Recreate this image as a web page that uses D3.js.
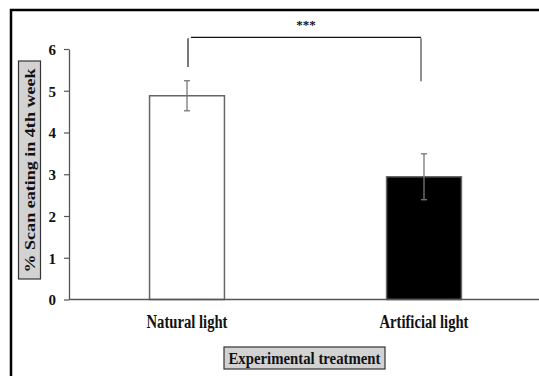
<!DOCTYPE html>
<html>
<head>
<meta charset="utf-8">
<script src="https://cdn.jsdelivr.net/npm/d3@7"></script>
<style>
  body { margin: 0; background: #fff; }
  text { font-family: "Liberation Serif", "Times New Roman", serif; font-weight: bold; fill: #111; }
</style>
</head>
<body>
<svg id="chart" width="539" height="376"></svg>
<script>
// chart values
const categories = ["Natural light", "Artificial light"];
const means = [4.88, 2.94];
const errors = [0.36, 0.55];
const barFills = ["#ffffff", "#000000"];
const yTicks = [0, 1, 2, 3, 4, 5, 6];
const sigLabel = "***";
const bracketTop = 6.28;        // horizontal part of the bracket
const bracketEnds = [5.57, 5.23]; // lower ends of the two legs
const xTitle = "Experimental treatment";
const yTitle = "% Scan eating in 4th week";

let svg = d3.select("#chart");

// outer frame (runs off the right and bottom edges like the scan)
svg.append("rect")
    .attr("x", 11).attr("y", 10)
    .attr("width", 560).attr("height", 400)
    .attr("fill", "#fff").attr("stroke", "#000").attr("stroke-width", 2.5);

let y = d3.scaleLinear().domain([0, 6]).range([299.5, 49]);
let x = d3.scaleBand().domain(categories)
    .range([68.5, 542.5]).paddingInner(0.684).paddingOuter(0.342);

// bars
svg.selectAll("rect.bar").data(categories).enter().append("rect")
    .attr("class", "bar")
    .attr("x", d => x(d))
    .attr("y", (d, i) => y(means[i]))
    .attr("width", x.bandwidth())
    .attr("height", (d, i) => y(0) - y(means[i]))
    .attr("fill", (d, i) => barFills[i])
    .attr("stroke", "#666").attr("stroke-width", 1.5);

// error bars
let errG = svg.selectAll("g.err").data(categories).enter().append("g")
    .attr("class", "err")
    .attr("stroke", "#777").attr("stroke-width", 1.3);
let cx = d => x(d) + x.bandwidth() / 2;
errG.append("line")
    .attr("x1", cx).attr("x2", cx)
    .attr("y1", (d, i) => y(means[i] + errors[i]))
    .attr("y2", (d, i) => y(means[i] - errors[i]));
errG.append("line")
    .attr("x1", d => cx(d) - 3).attr("x2", d => cx(d) + 3)
    .attr("y1", (d, i) => y(means[i] + errors[i]))
    .attr("y2", (d, i) => y(means[i] + errors[i]));
errG.append("line")
    .attr("x1", d => cx(d) - 3).attr("x2", d => cx(d) + 3)
    .attr("y1", (d, i) => y(means[i] - errors[i]))
    .attr("y2", (d, i) => y(means[i] - errors[i]));

// y axis
let yAxis = svg.append("g")
    .attr("transform", "translate(69,0)")
    .call(d3.axisLeft(y).tickValues(yTicks).tickFormat(d3.format("d"))
        .tickSize(5).tickSizeOuter(0).tickPadding(8));
yAxis.select(".domain").attr("stroke", "#555").attr("stroke-width", 1.3);
yAxis.selectAll(".tick line").attr("stroke", "#555").attr("stroke-width", 1.2);
yAxis.selectAll(".tick text")
    .style("font-family", "'Liberation Serif', serif")
    .style("font-weight", "bold")
    .style("font-size", "15px")
    .attr("dy", "0.36em")
    .attr("fill", "#111");

// x axis line
svg.append("line")
    .attr("x1", 69).attr("x2", 539)
    .attr("y1", y(0)).attr("y2", y(0))
    .attr("stroke", "#555").attr("stroke-width", 1.5);

// category labels
svg.selectAll("text.cat").data(categories).enter().append("text")
    .attr("class", "cat")
    .attr("x", cx).attr("y", 327.5)
    .attr("text-anchor", "middle")
    .attr("font-size", 18)
    .attr("textLength", (d, i) => i === 0 ? 81 : 89)
    .attr("lengthAdjust", "spacingAndGlyphs")
    .text(d => d);

// significance bracket
let xl = cx(categories[0]), xr = cx(categories[1]) - 3;
let br = svg.append("g").attr("fill", "none");
br.append("line").attr("x1", xl + 1).attr("x2", xl + 1)
    .attr("y1", y(bracketTop) + 1).attr("y2", y(bracketEnds[0]))
    .attr("stroke", "#777").attr("stroke-width", 2);
br.append("line").attr("x1", xl + 4).attr("x2", xr)
    .attr("y1", y(bracketTop)).attr("y2", y(bracketTop))
    .attr("stroke", "#111").attr("stroke-width", 1.3);
br.append("line").attr("x1", xr).attr("x2", xr)
    .attr("y1", y(bracketTop) + 1).attr("y2", y(bracketEnds[1]))
    .attr("stroke", "#555").attr("stroke-width", 1.3);
svg.append("text")
    .attr("x", (xl + xr) / 2 + 2).attr("y", 28.5)
    .attr("text-anchor", "middle")
    .attr("font-size", 13)
    .attr("fill", "#333")
    .text(sigLabel);

// x title box
svg.append("rect")
    .attr("x", 224).attr("y", 347).attr("width", 161).attr("height", 22)
    .attr("fill", "#d2d2d2").attr("stroke", "#333").attr("stroke-width", 1.2);
svg.append("text")
    .attr("x", 304.5).attr("y", 364)
    .attr("text-anchor", "middle")
    .attr("font-size", 16)
    .attr("textLength", 152)
    .attr("lengthAdjust", "spacingAndGlyphs")
    .text(xTitle);

// y title box
svg.append("rect")
    .attr("x", 18.5).attr("y", 61).attr("width", 22).attr("height", 218)
    .attr("fill", "#d2d2d2").attr("stroke", "#333").attr("stroke-width", 1.2);
svg.append("text")
    .attr("transform", "translate(34.5,170.5) rotate(-90)")
    .attr("text-anchor", "middle")
    .attr("font-size", 14)
    .attr("textLength", 204)
    .attr("lengthAdjust", "spacingAndGlyphs")
    .text(yTitle);
</script>
</body>
</html>
